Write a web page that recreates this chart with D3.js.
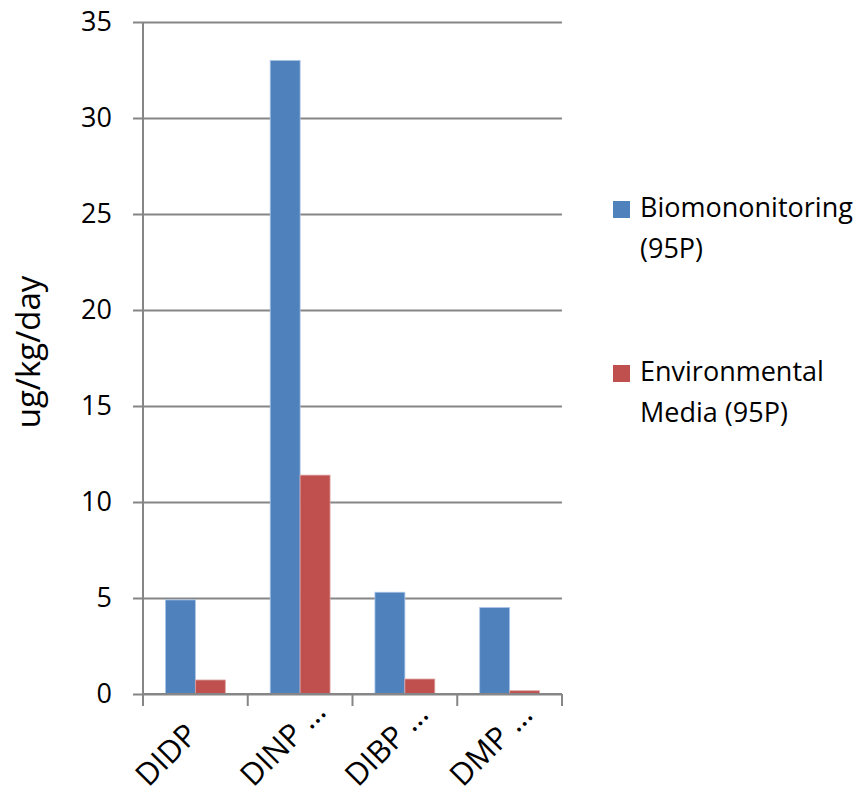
<!DOCTYPE html>
<html>
<head>
<meta charset="utf-8">
<script src="https://cdn.jsdelivr.net/npm/d3@7"></script>
<style>
  html, body { margin: 0; padding: 0; background: #fff; }
  svg { display: block; }
</style>
</head>
<body>
<div id="chart"></div>
<script>
// Exposure estimates per phthalate (ug/kg/day)
const categories = ["DIDP", "DINP …", "DIBP …", "DMP …"];
const seriesNames = ["Biomononitoring (95P)", "Environmental Media (95P)"];
const legendLines = [["Biomononitoring", "(95P)"], ["Environmental", "Media (95P)"]];
const biomonitoring = [4.9, 33.0, 5.3, 4.5];
const environmental = [0.73, 11.4, 0.78, 0.17];
const yTicks = [0, 5, 10, 15, 20, 25, 30, 35];
const colors = ["#4F81BD", "#C0504D"];

const W = 862, H = 796;
const margin = { left: 143, right: 300, top: 22, bottom: 102 };
const font = "'Open Sans', 'Noto Sans', sans-serif";

const svg = d3.select("#chart").append("svg")
  .attr("width", W).attr("height", H);

const x = d3.scaleBand()
  .domain(categories)
  .range([margin.left, W - margin.right])
  .paddingInner(0).paddingOuter(0);

// two bars per category, gap on each side of the pair
const x1 = d3.scaleBand()
  .domain(seriesNames)
  .range([0, x.bandwidth()])
  .paddingInner(0)
  .paddingOuter(0.75);

const y = d3.scaleLinear()
  .domain([0, 35])
  .range([H - margin.bottom, margin.top]);

const gridColor = "#868686";

// horizontal gridlines with left tick marks
const yAxis = d3.axisLeft(y)
  .tickValues(yTicks)
  .tickSize(-(W - margin.right - margin.left))
  .tickSizeOuter(0)
  .tickPadding(0)
  .tickFormat("");
const gy = svg.append("g")
  .attr("transform", `translate(${margin.left},0)`)
  .call(yAxis);
gy.select(".domain").remove();
gy.selectAll(".tick line")
  .attr("x1", -10)
  .attr("stroke", gridColor)
  .attr("stroke-width", 2);

// y tick labels
svg.append("g").selectAll("text")
  .data(yTicks).join("text")
  .attr("x", margin.left - 31)
  .attr("y", d => y(d))
  .attr("dy", "0.35em")
  .attr("text-anchor", "end")
  .attr("font-family", font)
  .attr("font-size", 27)
  .attr("fill", "#000")
  .text(d => d);

// bars
const rows = categories.map((c, i) => ({ cat: c, vals: [biomonitoring[i], environmental[i]] }));
const groups = svg.append("g").selectAll("g")
  .data(rows).join("g")
  .attr("transform", d => `translate(${x(d.cat)},0)`);
groups.selectAll("rect")
  .data(d => d.vals.map((v, k) => ({ v, k })))
  .join("rect")
  .attr("x", d => x1(seriesNames[d.k]))
  .attr("width", x1.bandwidth())
  .attr("y", d => y(d.v))
  .attr("height", d => y(0) - y(d.v))
  .attr("fill", d => colors[d.k])
  .attr("stroke", d => d.k === 0 ? "#a9c4e6" : "#dba3a2")
  .attr("stroke-width", 0.8);

// y axis line
svg.append("line")
  .attr("x1", margin.left).attr("x2", margin.left)
  .attr("y1", y(35)).attr("y2", y(0))
  .attr("stroke", gridColor).attr("stroke-width", 2);

// x axis with category separators
const xEdges = categories.map(c => x(c)).concat([x.range()[1]]);
svg.append("line")
  .attr("x1", margin.left).attr("x2", W - margin.right)
  .attr("y1", y(0)).attr("y2", y(0))
  .attr("stroke", gridColor).attr("stroke-width", 2);
svg.append("g").selectAll("line")
  .data(xEdges).join("line")
  .attr("x1", d => d).attr("x2", d => d)
  .attr("y1", y(0)).attr("y2", y(0) + 12)
  .attr("stroke", gridColor).attr("stroke-width", 2);

// rotated category labels, starting below-left of each category centre
svg.append("g").selectAll("text")
  .data(categories).join("text")
  .attr("transform", d => `translate(${x(d) + x.bandwidth() / 2 - 47},${y(0) + 94}) rotate(-45)`)
  .attr("text-anchor", "start")
  .attr("font-family", font)
  .attr("font-size", 31)
  .attr("fill", "#000")
  .text(d => d);

// y axis title
svg.append("text")
  .attr("transform", `translate(40,352) rotate(-90)`)
  .attr("text-anchor", "middle")
  .attr("font-family", font)
  .attr("font-size", 33)
  .attr("fill", "#000")
  .text("ug/kg/day");

// legend
const legend = svg.append("g").selectAll("g")
  .data(legendLines).join("g")
  .attr("transform", (d, i) => `translate(613,${201 + i * 164})`);
legend.append("rect")
  .attr("width", 17).attr("height", 17)
  .attr("fill", (d, i) => colors[i]);
legend.append("text")
  .attr("x", 27)
  .attr("y", 16)
  .attr("font-family", font)
  .attr("font-size", 27)
  .attr("fill", "#000")
  .selectAll("tspan")
  .data(d => d).join("tspan")
  .attr("x", 27)
  .attr("dy", (d, j) => j === 0 ? 0 : 41)
  .text(d => d);
</script>
</body>
</html>
